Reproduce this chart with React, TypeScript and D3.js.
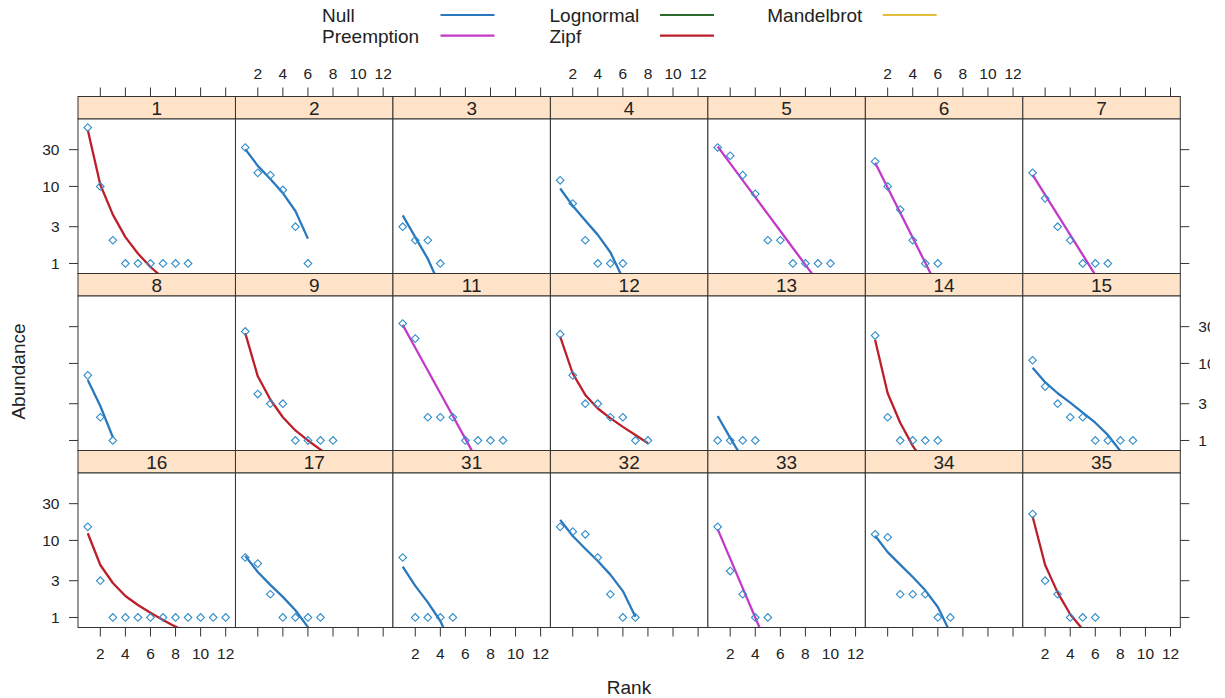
import React, { useEffect } from "react";
import * as d3 from "d3";

// ---------- data ----------
const panelLabels = ["1", "2", "3", "4", "5", "6", "7", "8", "9", "11", "12", "13", "14", "15", "16", "17", "31", "32", "33", "34", "35"];

const bestModel = [
  "Zipf", "Null", "Null", "Null", "Preemption", "Preemption", "Preemption",
  "Null", "Zipf", "Preemption", "Zipf", "Null", "Zipf", "Null",
  "Zipf", "Null", "Null", "Null", "Preemption", "Null", "Zipf",
];

const observed: number[][] = [
  [58, 10, 2, 1, 1, 1, 1, 1, 1],
  [32, 15, 14, 9, 3, 1],
  [3, 2, 2, 1],
  [12, 6, 2, 1, 1, 1],
  [32, 25, 14, 8, 2, 2, 1, 1, 1, 1],
  [21, 10, 5, 2, 1, 1],
  [15, 7, 3, 2, 1, 1, 1],
  [7, 2, 1],
  [26, 4, 3, 3, 1, 1, 1, 1],
  [33, 21, 2, 2, 2, 1, 1, 1, 1],
  [24, 7, 3, 3, 2, 2, 1, 1],
  [1, 1, 1, 1],
  [23, 2, 1, 1, 1, 1],
  [11, 5, 3, 2, 2, 1, 1, 1, 1],
  [15, 3, 1, 1, 1, 1, 1, 1, 1, 1, 1, 1],
  [6, 5, 2, 1, 1, 1, 1],
  [6, 1, 1, 1, 1],
  [15, 13, 12, 6, 2, 1, 1],
  [15, 4, 2, 1, 1],
  [12, 11, 2, 2, 2, 1, 1],
  [22, 3, 2, 1, 1, 1],
];

const fitted: number[][] = [
  [54, 10.5, 4.3, 2.2, 1.35, 0.9, 0.65, 0.5, 0.4],
  [30.5, 18.5, 12.5, 8.2, 4.8, 2.1],
  [4.2, 2.2, 1.15, 0.5],
  [9.4, 5.6, 3.6, 2.35, 1.4, 0.64],
  [33, 19.9, 12.0, 7.25, 4.37, 2.64, 1.59, 0.96, 0.58, 0.35],
  [20.3, 9.6, 4.55, 2.15, 1.02, 0.48],
  [14.1, 7.76, 4.27, 2.35, 1.29, 0.71, 0.39],
  [6.1, 2.8, 1.1],
  [24.7, 6.8, 3.4, 2.0, 1.35, 1.0, 0.76, 0.6],
  [31.6, 16.0, 8.1, 4.1, 2.08, 1.05, 0.53, 0.27, 0.14],
  [22.3, 7.4, 3.9, 2.6, 1.95, 1.5, 1.18, 0.92],
  [2.08, 1.08, 0.58, 0.25],
  [20.2, 4.1, 1.7, 0.85, 0.5, 0.33],
  [8.8, 5.7, 4.1, 3.1, 2.3, 1.7, 1.18, 0.73, 0.35],
  [12.4, 4.8, 2.8, 1.9, 1.45, 1.15, 0.93, 0.76, 0.63, 0.54, 0.47, 0.41],
  [6.3, 3.9, 2.65, 1.85, 1.24, 0.75, 0.35],
  [4.57, 2.57, 1.57, 0.9, 0.4],
  [18.5, 11.4, 7.8, 5.4, 3.6, 2.2, 1.02],
  [14.0, 5.8, 2.4, 1.0, 0.41],
  [11.5, 7.05, 4.85, 3.35, 2.25, 1.37, 0.63],
  [20.4, 4.8, 2.1, 1.1, 0.7, 0.48],
];

const modelNames = ["Null", "Preemption", "Lognormal", "Zipf", "Mandelbrot"];
const modelColors = ["#2a78bd", "#c43ac8", "#2d6b2d", "#bd1f2a", "#e3bd3c"];

const xTicks = [2, 4, 6, 8, 10, 12];
const yTicks = [1, 3, 10, 30];

// ---------- layout ----------
const W = 1225;
const H = 698;
const left0 = 78;
const panelW = 157.47;
const nCols = 7;
const nRows = 3;
const rowTop0 = 96.5;
const stripH = 22.5;
const panelH = 154.5;
const rowPitch = stripH + panelH;
const tickLen = 9;
const font = "'Liberation Sans', Arial, Helvetica, sans-serif";
const textCol = "#222";
const tickFs = 15.5;
const textFs = 19;

const x = d3.scaleLinear().domain([0.22, 12.78]).range([0, panelW]);
const y = d3.scaleLog().domain([0.741, 75]).range([panelH, 0]);

const colorOf = (m: string) => modelColors[modelNames.indexOf(m)];

export default function App() {
  useEffect(() => {
    document.body.style.margin = "0";
  }, []);

  const line = d3
    .line<number>()
    .x((_, i) => x(i + 1))
    .y((v) => y(v));

  const panels = panelLabels.map((lab, idx) => {
    const col = idx % nCols;
    const row = Math.floor(idx / nCols);
    const px = left0 + col * panelW;
    const stripTop = rowTop0 + row * rowPitch;
    const py = stripTop + stripH;
    const clipId = `clip-${idx}`;
    return (
      <g key={lab}>
        <rect x={px} y={stripTop} width={panelW} height={stripH} fill="#ffe3c8" stroke="#333" strokeWidth={1} />
        <text
          x={px + panelW / 2}
          y={stripTop + stripH / 2 + textFs * 0.36}
          textAnchor="middle"
          fontSize={textFs}
          fontFamily={font}
          fill={textCol}
        >
          {lab}
        </text>
        <g transform={`translate(${px},${py})`}>
          <clipPath id={clipId}>
            <rect x={0} y={0} width={panelW} height={panelH} />
          </clipPath>
          <rect x={0} y={0} width={panelW} height={panelH} fill="#fff" />
          <g clipPath={`url(#${clipId})`}>
            <path d={line(fitted[idx]) || ""} fill="none" stroke={colorOf(bestModel[idx])} strokeWidth={2.3} strokeLinejoin="round" />
            {observed[idx].map((v, i) => (
              <rect
                key={i}
                x={-2.7}
                y={-2.7}
                width={5.4}
                height={5.4}
                fill="none"
                stroke="#2f8dcb"
                strokeWidth={1.1}
                transform={`translate(${x(i + 1)},${y(v)}) rotate(45)`}
              />
            ))}
          </g>
          <rect x={0} y={0} width={panelW} height={panelH} fill="none" stroke="#333" strokeWidth={1} />
        </g>
      </g>
    );
  });

  // axes
  const axes: React.ReactNode[] = [];
  for (let col = 0; col < nCols; col++) {
    const px = left0 + col * panelW;
    const topY = rowTop0;
    const botY = rowTop0 + nRows * rowPitch;
    xTicks.forEach((t) => {
      const tx = px + x(t);
      axes.push(<line key={`tt${col}-${t}`} x1={tx} x2={tx} y1={topY} y2={topY - tickLen} stroke="#333" strokeWidth={1} />);
      axes.push(<line key={`bt${col}-${t}`} x1={tx} x2={tx} y1={botY} y2={botY + tickLen} stroke="#333" strokeWidth={1} />);
      if (col % 2 === 1) {
        axes.push(
          <text key={`tl${col}-${t}`} x={tx} y={73 + tickFs * 0.36} textAnchor="middle" fontSize={tickFs} fontFamily={font} fill={textCol}>
            {t}
          </text>
        );
      } else {
        axes.push(
          <text key={`bl${col}-${t}`} x={tx} y={653.5 + tickFs * 0.36} textAnchor="middle" fontSize={tickFs} fontFamily={font} fill={textCol}>
            {t}
          </text>
        );
      }
    });
  }
  const rightX = left0 + nCols * panelW;
  for (let row = 0; row < nRows; row++) {
    const py = rowTop0 + row * rowPitch + stripH;
    yTicks.forEach((t) => {
      const ty = py + y(t);
      axes.push(<line key={`lt${row}-${t}`} x1={left0} x2={left0 - tickLen} y1={ty} y2={ty} stroke="#333" strokeWidth={1} />);
      axes.push(<line key={`rt${row}-${t}`} x1={rightX} x2={rightX + tickLen} y1={ty} y2={ty} stroke="#333" strokeWidth={1} />);
      if (row % 2 === 0) {
        axes.push(
          <text key={`ll${row}-${t}`} x={59.5} y={ty + tickFs * 0.36} textAnchor="end" fontSize={tickFs} fontFamily={font} fill={textCol}>
            {t}
          </text>
        );
      } else {
        axes.push(
          <text key={`rl${row}-${t}`} x={rightX + 18} y={ty + tickFs * 0.36} textAnchor="start" fontSize={tickFs} fontFamily={font} fill={textCol} clipPath="url(#rightclip)">
            {t}
          </text>
        );
      }
    });
  }

  // legend
  const legendItems = [
    { name: "Null", tx: 322, lx: 440.5, ty: 15 },
    { name: "Preemption", tx: 322, lx: 440.5, ty: 35.7 },
    { name: "Lognormal", tx: 549.5, lx: 660, ty: 15 },
    { name: "Zipf", tx: 549.5, lx: 660, ty: 35.7 },
    { name: "Mandelbrot", tx: 767.3, lx: 882.7, ty: 15 },
  ];

  return (
    <div style={{ position: "absolute", left: 0, top: 0 }}>
      <svg width={W} height={H} style={{ display: "block", background: "#fff" }}>
        <defs>
          <clipPath id="rightclip">
            <rect x={0} y={0} width={1210} height={H} />
          </clipPath>
        </defs>
        <rect x={0} y={0} width={W} height={H} fill="#fff" />
        {legendItems.map((it) => (
          <g key={it.name}>
            <text x={it.tx} y={it.ty + textFs * 0.36} fontSize={textFs} fontFamily={font} fill={textCol}>
              {it.name}
            </text>
            <line x1={it.lx} x2={it.lx + 54} y1={it.ty} y2={it.ty} stroke={colorOf(it.name)} strokeWidth={2.2} />
          </g>
        ))}
        {panels}
        {axes}
        <text
          transform={`translate(${18.3 + textFs * 0.36},371.5) rotate(-90)`}
          textAnchor="middle"
          fontSize={textFs}
          fontFamily={font}
          fill={textCol}
        >
          Abundance
        </text>
        <text x={629} y={694} textAnchor="middle" fontSize={textFs} fontFamily={font} fill={textCol}>
          Rank
        </text>
      </svg>
    </div>
  );
}
